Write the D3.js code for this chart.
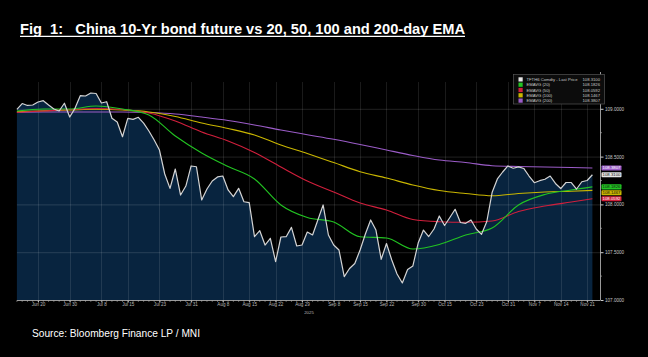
<!DOCTYPE html>
<html><head><meta charset="utf-8">
<script src="https://cdn.jsdelivr.net/npm/d3@7"></script>
<style>html,body{margin:0;padding:0;background:#000;}svg{display:block;} .pre{white-space:pre;}</style>
</head><body>
<script>
// ---------- DATA ----------
const firstDay = "2025-06-16", lastDay = "2025-11-24";
const holidays = ["2025-10-01","2025-10-02","2025-10-03","2025-10-06","2025-10-07","2025-10-08"];
const tickDays = ["2025-06-20","2025-06-30","2025-07-08","2025-07-15","2025-07-23","2025-07-31","2025-08-08","2025-08-15","2025-08-22","2025-08-29","2025-09-08","2025-09-15","2025-09-22","2025-09-30","2025-10-15","2025-10-23","2025-10-31","2025-11-07","2025-11-14","2025-11-21"];
const tickLabels = ["Jun 20","Jun 30","Jul 8","Jul 15","Jul 23","Jul 31","Aug 8","Aug 15","Aug 22","Aug 29","Sep 8","Sep 15","Sep 22","Sep 30","Oct 15","Oct 23","Oct 31","Nov 7","Nov 14","Nov 21"];
const yTicks = [107.0, 107.5, 108.0, 108.5, 109.0];

const lastPrice = [108.993,109.055,109.035,109.040,109.071,109.085,109.040,108.998,108.977,109.058,
108.914,109.005,109.137,109.134,109.165,109.160,109.061,109.074,108.901,108.862,
108.708,108.899,108.890,108.911,108.851,108.768,108.674,108.569,108.318,108.168,
108.370,108.098,108.192,108.402,108.394,108.046,108.161,108.245,108.287,108.297,
108.151,108.081,108.168,108.028,108.018,107.662,107.725,107.575,107.645,107.401,
107.659,107.662,107.760,107.565,107.575,107.711,107.680,107.837,107.994,107.680,
107.575,107.523,107.244,107.330,107.382,107.523,107.690,107.837,107.732,107.426,
107.591,107.418,107.272,107.178,107.319,107.356,107.596,107.732,107.664,107.743,
107.879,107.779,107.863,107.949,107.811,107.802,107.837,107.743,107.687,107.821,
108.124,108.266,108.339,108.402,108.378,108.393,108.376,108.297,108.227,108.248,
108.263,108.297,108.219,108.166,108.229,108.229,108.161,108.237,108.250,108.310];

// EMA readings at these trading-day positions
const emaDays = [0,5,10,15,20,25,30,35,40,45,50,55,60,65,70,75,80,85,90,95,100,105,109];
const ema20  = [108.977,108.998,108.998,109.029,108.998,108.935,108.715,108.538,108.396,108.266,107.994,107.863,107.816,107.662,107.649,107.533,107.581,107.680,107.753,107.994,108.104,108.151,108.183];
const ema50  = [108.963,108.977,108.993,109.003,108.993,108.956,108.872,108.757,108.663,108.543,108.391,108.245,108.130,108.015,107.941,107.842,107.819,107.813,107.826,107.926,107.983,108.025,108.059];
const ema100 = [108.970,108.979,108.987,108.995,108.987,108.967,108.919,108.851,108.794,108.726,108.621,108.532,108.438,108.342,108.276,108.203,108.145,108.114,108.090,108.114,108.130,108.138,108.147];
const ema200 = [108.963,108.967,108.967,108.967,108.967,108.961,108.946,108.914,108.878,108.831,108.778,108.729,108.681,108.627,108.569,108.512,108.464,108.438,108.405,108.396,108.391,108.386,108.381];

const legendNames = ["TFTH6 Comdty - Last Price","EMAVG (20)","EMAVG (50)","EMAVG (100)","EMAVG (200)"];
const legendValues = ["108.3100","108.1826","108.0592","108.1467","108.3807"];
const seriesColors = ["#e6e6e6","#22c422","#d11f3c","#c9b600","#9b5cc8"];

// ---------- BUILD ----------
const W = 648, H = 357;
const fmt = d3.timeFormat("%Y-%m-%d"), parse = d3.timeParse("%Y-%m-%d");
const days = d3.timeDay.range(parse(firstDay), d3.timeDay.offset(parse(lastDay), 1))
  .filter(d => d.getDay() !== 0 && d.getDay() !== 6)
  .map(fmt).filter(s => !holidays.includes(s));

const svg = d3.select("body").append("svg").attr("width", W).attr("height", H);
svg.append("rect").attr("width", W).attr("height", H).attr("fill", "#000");

const x = d3.scalePoint().domain(days).range([16.9, 592.4]);
const y = d3.scaleLinear().domain([107, 109]).range([300, 108.8]);
const plotL = 16.9, plotR = 600, plotB = 300, plotT = 72;

// area under price
const priceData = days.map((d, i) => ({d, v: lastPrice[i]}));
svg.append("path").datum(priceData)
  .attr("fill", "#08243f")
  .attr("d", d3.area().x(p => x(p.d)).y0(y(107)).y1(p => y(p.v)));

// gridlines
const grid = svg.append("g");
grid.selectAll("line.h").data(yTicks.slice(1)).join("line")
  .attr("x1", plotL).attr("x2", plotR).attr("y1", v => y(v) + 0.5).attr("y2", v => y(v) + 0.5)
  .attr("stroke", "#ffffff").attr("stroke-opacity", 0.13).attr("stroke-width", 1);
grid.selectAll("line.v").data(tickDays).join("line")
  .attr("x1", d => Math.round(x(d)) + 0.5).attr("x2", d => Math.round(x(d)) + 0.5)
  .attr("y1", plotT + 10).attr("y2", plotB)
  .attr("stroke", "#ffffff").attr("stroke-opacity", 0.1).attr("stroke-width", 1);

// EMA lines
const emaLine = d3.line().x(p => x(days[p[0]])).y(p => y(p[1])).curve(d3.curveMonotoneX);
[[ema200, 4], [ema100, 3], [ema50, 2], [ema20, 1]].forEach(([arr, ci]) => {
  svg.append("path").datum(emaDays.map((k, i) => [k, arr[i]]))
    .attr("fill", "none").attr("stroke", seriesColors[ci]).attr("stroke-width", 1.1)
    .attr("d", emaLine);
});

// price line
svg.append("path").datum(priceData)
  .attr("fill", "none").attr("stroke", "#d4d4d4").attr("stroke-width", 1.2)
  .attr("stroke-linejoin", "round")
  .attr("d", d3.line().x(p => x(p.d)).y(p => y(p.v)));

// bottom axis
const xAxis = d3.axisBottom(x).tickValues(tickDays)
  .tickFormat(d => tickLabels[tickDays.indexOf(d)]).tickSize(2).tickSizeOuter(0);
const gx = svg.append("g").attr("transform", `translate(0,${plotB + 0.5})`).call(xAxis);
gx.select(".domain").attr("stroke", "#9a9a9a").attr("d", `M${plotL},0H${plotR}`);
gx.selectAll(".tick line").attr("stroke", "#bbb");
gx.selectAll(".tick text").attr("fill", "#b8b8b8").attr("font-size", 4.6)
  .attr("font-family", "Liberation Sans, Arial, sans-serif").attr("dy", "0.2em");
// daily minor ticks
svg.append("g").selectAll("line").data(days).join("line")
  .attr("x1", d => x(d)).attr("x2", d => x(d)).attr("y1", plotB + 0.5).attr("y2", plotB + 1.8)
  .attr("stroke", "#bbb").attr("stroke-width", 0.6);
svg.append("text").attr("x", x("2025-08-29") + 7).attr("y", 313.5).attr("text-anchor", "middle")
  .attr("fill", "#b8b8b8").attr("font-size", 4.3).attr("font-family", "Liberation Sans, Arial, sans-serif").text("2025");

// right axis
const yAxis = d3.axisRight(y).tickValues(yTicks).tickFormat(d3.format(".4f")).tickSize(3).tickSizeOuter(0);
const gy = svg.append("g").attr("transform", `translate(${plotR + 0.5},0)`).call(yAxis);
gy.select(".domain").attr("stroke", "#9a9a9a").attr("d", `M0,${plotT}V${plotB}`);
gy.selectAll(".tick line").attr("stroke", "#ccc");
gy.selectAll(".tick text").attr("fill", "#c8c8c8").attr("font-size", 4.6)
  .attr("font-family", "Liberation Sans, Arial, sans-serif").attr("x", 4.5);
svg.append("g").selectAll("line").data(d3.range(107.25, 109.3, 0.5)).join("line")
  .attr("x1", plotR + 0.5).attr("x2", plotR + 2).attr("y1", v => y(v)).attr("y2", v => y(v))
  .attr("stroke", "#bbb").attr("stroke-width", 0.6);

// value tags on right axis
const tagOrder = [4, 0, 1, 3, 2];
let prevBottom = -1e9;
tagOrder.forEach(ci => {
  let cy = y(+legendValues[ci]);
  let top = Math.max(cy - 2.6, prevBottom + 0.6);
  prevBottom = top + 5.2;
  svg.append("rect").attr("x", plotR + 1.5).attr("y", top).attr("width", 20).attr("height", 5.2)
    .attr("rx", 0.8).attr("fill", seriesColors[ci]);
  svg.append("text").attr("x", plotR + 11.5).attr("y", top + 4).attr("text-anchor", "middle")
    .attr("font-size", 4.3).attr("font-family", "Liberation Sans, Arial, sans-serif")
    .attr("fill", (ci === 2 || ci === 4) ? "#fff" : "#111").text(legendValues[ci]);
});

// legend
const lg = svg.append("g");
lg.append("rect").attr("x", 513.5).attr("y", 74.5).attr("width", 91).attr("height", 29.5)
  .attr("fill", "#0c0c0c").attr("stroke", "#555").attr("stroke-width", 0.7);
legendNames.forEach((n, i) => {
  const ry = 79.5 + i * 5.3;
  lg.append("rect").attr("x", 518.5).attr("y", ry - 2.2).attr("width", 4.2).attr("height", 4.2).attr("fill", seriesColors[i]);
  lg.append("text").attr("x", 526.5).attr("y", ry + 1.4).attr("font-size", 4.2)
    .attr("font-family", "Liberation Sans, Arial, sans-serif").attr("fill", "#c8c8c8").text(n);
  lg.append("text").attr("x", 600).attr("y", ry + 1.4).attr("font-size", 4.2).attr("text-anchor", "end")
    .attr("font-family", "Liberation Sans, Arial, sans-serif").attr("fill", "#c8c8c8").text(legendValues[i]);
});

// title & source
svg.append("text").attr("class", "pre").attr("xml:space", "preserve").attr("x", 20).attr("y", 33.5)
  .attr("font-family", "Liberation Sans, Arial, sans-serif").attr("font-weight", "bold").attr("font-size", 15.5)
  .attr("fill", "#fff").attr("textLength", 445).attr("lengthAdjust", "spacingAndGlyphs")
  .text("Fig  1:   China 10-Yr bond future vs 20, 50, 100 and 200-day EMA");
svg.append("line").attr("x1", 20).attr("x2", 465).attr("y1", 36.4).attr("y2", 36.4)
  .attr("stroke", "#fff").attr("stroke-width", 1.3);
svg.append("text").attr("x", 32).attr("y", 336.5)
  .attr("font-family", "Liberation Sans, Arial, sans-serif").attr("font-size", 10)
  .attr("fill", "#fff").attr("textLength", 168).attr("lengthAdjust", "spacingAndGlyphs")
  .text("Source: Bloomberg Finance LP / MNI");
</script>
</body></html>
